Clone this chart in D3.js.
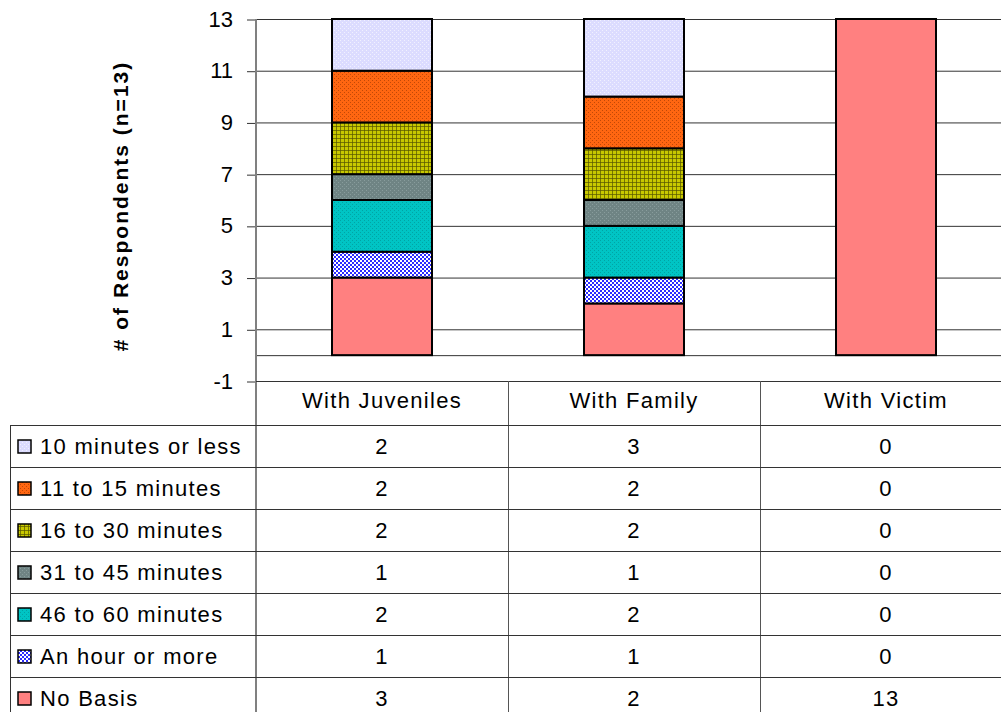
<!DOCTYPE html>
<html>
<head>
<meta charset="utf-8">
<script src="https://cdn.jsdelivr.net/npm/d3@7"></script>
<style>
body { margin: 0; background: #fff; }
svg { display: block; font-family: Arial, "Liberation Sans", sans-serif; }
</style>
</head>
<body>
<div id="chart"></div>
<script>
var categories = ["With Juveniles", "With Family", "With Victim"];
var series = ["10 minutes or less", "11 to 15 minutes", "16 to 30 minutes", "31 to 45 minutes", "46 to 60 minutes", "An hour or more", "No Basis"];
var tenOrLess = [2, 3, 0];
var elevenTo15 = [2, 2, 0];
var sixteenTo30 = [2, 2, 0];
var thirtyOneTo45 = [1, 1, 0];
var fortySixTo60 = [2, 2, 0];
var hourOrMore = [1, 1, 0];
var noBasis = [3, 2, 13];
var yTicks = [-1, 1, 3, 5, 7, 9, 11, 13];

var valeurs = [tenOrLess, elevenTo15, sixteenTo30, thirtyOneTo45, fortySixTo60, hourOrMore, noBasis];
var couleurs = ["#dcdcff", "#ff6611", "#c8c800", "#6f8484", "#00c4c4", "#2c2cff", "#ff8080"];
var motifs = ["#ffffff", "#993300", "#555500", "#9aabab", "#008f8f", "#ffffff", null];

var width = 1001, height = 712;
var x0 = 256, colW = 252, tableTop = 381, headerH = 44, rowH = 42;

var svg = d3.select("#chart").append("svg").attr("width", width).attr("height", height);
var defs = svg.append("defs");

// motifs de remplissage
series.forEach(function(s, i) {
    if (!motifs[i]) return;
    var p = defs.append("pattern").attr("id", "p" + i).attr("patternUnits", "userSpaceOnUse")
        .attr("width", 4).attr("height", 4);
    p.append("rect").attr("width", 4).attr("height", 4).attr("fill", couleurs[i]);
    if (i == 5) {
        p.append("rect").attr("width", 2).attr("height", 2).attr("fill", motifs[i]);
        p.append("rect").attr("x", 2).attr("y", 2).attr("width", 2).attr("height", 2).attr("fill", motifs[i]);
    } else if (i == 2) {
        p.append("rect").attr("x", 0).attr("y", 0).attr("width", 1).attr("height", 4).attr("fill", motifs[i]).attr("opacity", 0.7);
        p.append("rect").attr("x", 0).attr("y", 2).attr("width", 4).attr("height", 1).attr("fill", motifs[i]).attr("opacity", 0.7);
    } else {
        p.append("rect").attr("x", 0).attr("y", 0).attr("width", 1).attr("height", 1).attr("fill", motifs[i]).attr("opacity", 0.6);
        p.append("rect").attr("x", 2).attr("y", 2).attr("width", 1).attr("height", 1).attr("fill", motifs[i]).attr("opacity", 0.6);
    }
});
function remplissage(i) { return motifs[i] ? "url(#p" + i + ")" : couleurs[i]; }

var y = d3.scaleLinear().domain([-1, 13]).range([381, 19]);
var x = d3.scaleBand().domain(categories).range([x0, x0 + colW * 3]).paddingInner(0).paddingOuter(0);
var barW = 100;

// grille
svg.append("g").selectAll("line").data(yTicks.concat([0])).enter().append("line")
    .attr("x1", x0).attr("x2", width).attr("y1", function(d) { return y(d) + 0.5; }).attr("y2", function(d) { return y(d) + 0.5; })
    .attr("stroke", "#333").attr("stroke-width", 1);

// axe y
var axeY = svg.append("g").attr("transform", "translate(" + x0 + ",0)")
    .call(d3.axisLeft(y).tickValues(yTicks).tickSize(9).tickPadding(14).tickFormat(function(d) { return String(d); }));
axeY.select(".domain").remove();
axeY.selectAll(".tick line").attr("stroke", "#333").attr("transform", "translate(0,0.5)");
axeY.selectAll(".tick text").attr("font-size", 22).attr("fill", "#000").attr("font-family", "Arial, 'Liberation Sans', sans-serif");

svg.append("text").attr("transform", "translate(128,206) rotate(-90)")
    .attr("text-anchor", "middle").attr("font-size", 21).attr("font-weight", "bold").attr("letter-spacing", 2)
    .text("# of Respondents (n=13)");

// barres empilees (du bas vers le haut)
var ordre = d3.range(series.length).reverse();
categories.forEach(function(c, ci) {
    var base = 0;
    ordre.forEach(function(si) {
        var v = valeurs[si][ci];
        if (v <= 0) return;
        svg.append("rect")
            .attr("x", x(c) + (colW - barW) / 2).attr("width", barW)
            .attr("y", y(base + v)).attr("height", y(base) - y(base + v))
            .attr("fill", remplissage(si)).attr("stroke", "#000").attr("stroke-width", 2);
        base += v;
    });
});

// tableau
var t = svg.append("g").attr("font-size", 22).attr("letter-spacing", 1.3);
t.append("line").attr("x1", x0).attr("x2", x0).attr("y1", 19).attr("y2", height).attr("stroke", "#808080").attr("stroke-width", 2);
t.append("line").attr("x1", x0).attr("x2", width).attr("y1", tableTop + 0.5).attr("y2", tableTop + 0.5).attr("stroke", "#333");
t.append("line").attr("x1", 10.5).attr("x2", 10.5).attr("y1", tableTop + headerH).attr("y2", height).attr("stroke", "#333");
[1, 2].forEach(function(k) {
    t.append("line").attr("x1", x0 + colW * k + 0.5).attr("x2", x0 + colW * k + 0.5)
        .attr("y1", tableTop).attr("y2", height).attr("stroke", "#555");
});
d3.range(series.length + 1).forEach(function(r) {
    var yy = tableTop + headerH + rowH * r;
    t.append("line").attr("x1", 10).attr("x2", width).attr("y1", yy + 0.5).attr("y2", yy + 0.5).attr("stroke", "#333");
});
t.selectAll("text.head").data(categories).enter().append("text")
    .attr("x", function(d) { return x(d) + colW / 2; }).attr("y", tableTop + 27)
    .attr("text-anchor", "middle").text(function(d) { return d; });

series.forEach(function(s, si) {
    var yc = tableTop + headerH + rowH * si + rowH / 2;
    t.append("rect").attr("x", 18).attr("y", yc - 6).attr("width", 13).attr("height", 13)
        .attr("fill", remplissage(si)).attr("stroke", "#000").attr("stroke-width", 1.5);
    t.append("text").attr("x", 40).attr("y", yc + 8).text(s);
    categories.forEach(function(c, ci) {
        t.append("text").attr("x", x(c) + colW / 2).attr("y", yc + 8)
            .attr("text-anchor", "middle").text(valeurs[si][ci]);
    });
});
</script>
</body>
</html>
